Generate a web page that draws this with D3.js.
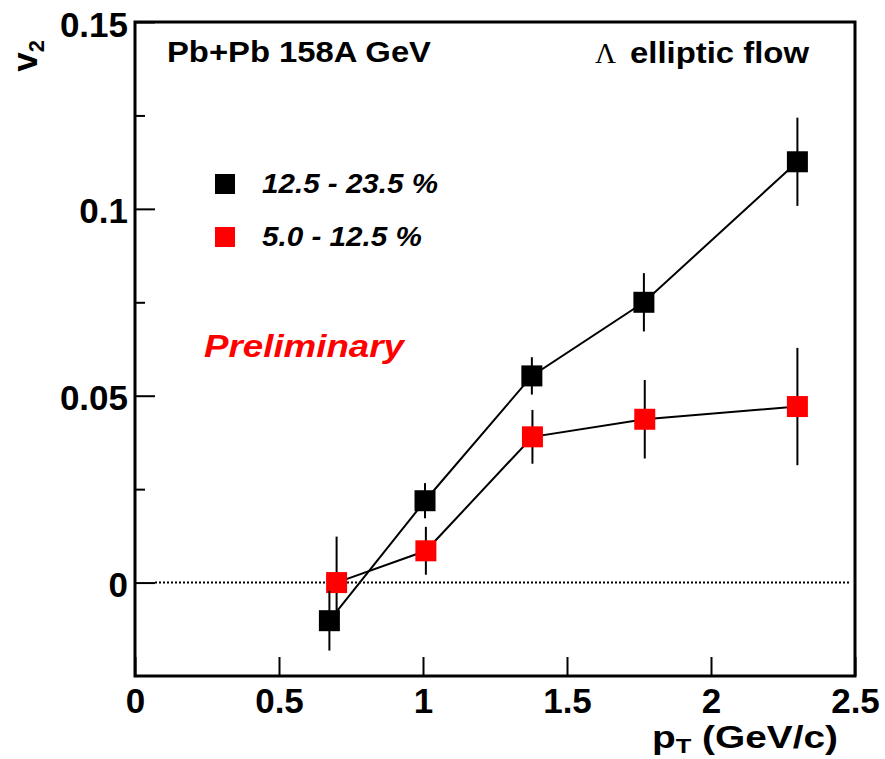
<!DOCTYPE html>
<head>
  <meta charset="utf-8">
  <script src="https://d3js.org/d3.v7.min.js"></script>
  <style>
    body { margin:0; padding:0; background:#fff; }
    text { font-family: "Liberation Sans", Arial, sans-serif; font-weight:bold; }
    .tick line { stroke:#000; stroke-width:2px; }
    .tick text { font-size:35px; fill:#000; }
  </style>
</head>

<body>
  <script>
    var width = 885, height = 759;
    var margin = {top:22, right:30, bottom:83, left:135};

    // data
    var ptBlack  = [0.675, 1.007, 1.378, 1.767, 2.300];
    var v2Black  = [-0.0102, 0.0219, 0.0553, 0.0750, 0.1126];
    var errBlack = [0.0080, 0.0047, 0.0050, 0.0078, 0.0118];

    var ptRed  = [0.700, 1.010, 1.380, 1.770, 2.300];
    var v2Red  = [0.0000, 0.0085, 0.0390, 0.0437, 0.0471];
    var errRed = [0.0123, 0.0064, 0.0072, 0.0105, 0.0157];

    var xTicks = [0, 0.5, 1, 1.5, 2, 2.5];
    var yTicks = [0, 0.05, 0.1, 0.15];
    var yMinor = [0.025, 0.075, 0.125];
    var legendLabels = ["12.5 - 23.5 %", "5.0 - 12.5 %"];

    var svg = d3.select("body").append("svg")
      .attr("width", width).attr("height", height);

    var x = d3.scaleLinear().domain([0, 2.5]).range([margin.left, width - margin.right]);
    var y = d3.scaleLinear().domain([-0.025, 0.15]).range([height - margin.bottom, margin.top]);

    // axes
    var xAxis = svg.append("g")
      .attr("transform", "translate(0," + y(-0.025) + ")")
      .call(d3.axisBottom(x).tickValues(xTicks).tickFormat(d3.format("")).tickSizeInner(-19).tickSizeOuter(0).tickPadding(12));
    xAxis.select(".domain").remove();

    var yAxis = svg.append("g")
      .attr("transform", "translate(" + x(0) + ",0)")
      .call(d3.axisLeft(y).tickValues(yTicks).tickFormat(d3.format("")).tickSizeInner(-20).tickSizeOuter(0).tickPadding(7));
    yAxis.select(".domain").remove();
    yAxis.selectAll(".tick text").attr("dy", "0.4em");

    var yAxisMinor = svg.append("g")
      .attr("transform", "translate(" + x(0) + ",0)")
      .call(d3.axisLeft(y).tickValues(yMinor).tickFormat("").tickSizeInner(-10).tickSizeOuter(0));
    yAxisMinor.select(".domain").remove();

    // zero line
    svg.append("line")
      .attr("x1", x(0) + 20).attr("x2", x(2.5) - 4)
      .attr("y1", y(0)).attr("y2", y(0))
      .style("stroke", "#000").style("stroke-width", 2).style("stroke-dasharray", "2,2");

    // frame
    svg.append("rect")
      .attr("x", x(0)).attr("y", y(0.15))
      .attr("width", x(2.5) - x(0)).attr("height", y(-0.025) - y(0.15))
      .style("fill", "none").style("stroke", "#000").style("stroke-width", 3);

    var line = d3.line()
      .x(function(d) { return x(d.pt); })
      .y(function(d) { return y(d.v2); });

    function drawSeries(pts, vals, errs, color) {
      var data = pts.map(function(p, i) { return {pt:p, v2:vals[i], err:errs[i]}; });
      var g = svg.append("g");
      g.append("path").datum(data)
        .attr("d", line)
        .style("fill", "none").style("stroke", "#000").style("stroke-width", 2);
      g.selectAll(".err").data(data).enter().append("line")
        .attr("x1", function(d) { return x(d.pt); })
        .attr("x2", function(d) { return x(d.pt); })
        .attr("y1", function(d) { return y(d.v2 + d.err); })
        .attr("y2", function(d) { return y(d.v2 - d.err); })
        .style("stroke", "#000").style("stroke-width", 2);
      g.selectAll(".mk").data(data).enter().append("rect")
        .attr("x", function(d) { return x(d.pt) - 10.5; })
        .attr("y", function(d) { return y(d.v2) - 10.5; })
        .attr("width", 21).attr("height", 21)
        .style("fill", color);
    }
    drawSeries(ptRed, v2Red, errRed, "#ff0000");
    drawSeries(ptBlack, v2Black, errBlack, "#000");

    // legend
    var legColors = ["#000", "#ff0000"];
    var legWidths = [176, 160];
    legendLabels.forEach(function(lbl, i) {
      var cy = 184 + i * 53;
      svg.append("rect").attr("x", 215).attr("y", cy - 10).attr("width", 20).attr("height", 20)
        .style("fill", legColors[i]);
      svg.append("text").attr("x", 262).attr("y", cy + 9)
        .attr("textLength", legWidths[i]).attr("lengthAdjust", "spacingAndGlyphs")
        .style("font-size", "27px").style("font-style", "italic").text(lbl);
    });

    // labels
    svg.append("text").attr("x", 167).attr("y", 62)
      .attr("textLength", 264).attr("lengthAdjust", "spacingAndGlyphs")
      .style("font-size", "29px").text("Pb+Pb 158A GeV");

    svg.append("text").attr("x", 595).attr("y", 63)
      .style("font-family", "'Liberation Serif', serif").style("font-weight", "normal")
      .style("font-size", "29px").text("\u039B");
    svg.append("text").attr("x", 630).attr("y", 63)
      .attr("textLength", 179).attr("lengthAdjust", "spacingAndGlyphs")
      .style("font-size", "29px").text("elliptic flow");

    svg.append("text").attr("x", 204).attr("y", 357)
      .attr("textLength", 200).attr("lengthAdjust", "spacingAndGlyphs")
      .style("font-size", "31px").style("font-style", "italic").style("fill", "#ff0000")
      .text("Preliminary");

    var yTitle = svg.append("text")
      .attr("transform", "translate(37,40) rotate(-90)")
      .attr("text-anchor", "end")
      .style("font-size", "35px");
    yTitle.append("tspan").text("v");
    yTitle.append("tspan").attr("dy", 7).style("font-size", "22px").text("2");

    var xTitle = svg.append("text")
      .attr("x", 652).attr("y", 748)
      .attr("textLength", 186).attr("lengthAdjust", "spacingAndGlyphs")
      .style("font-size", "32px");
    xTitle.append("tspan").text("p");
    xTitle.append("tspan").attr("dy", 5).style("font-size", "21px").text("T");
    xTitle.append("tspan").attr("dy", -5).text(" (GeV/c)");
  </script>
</body>
